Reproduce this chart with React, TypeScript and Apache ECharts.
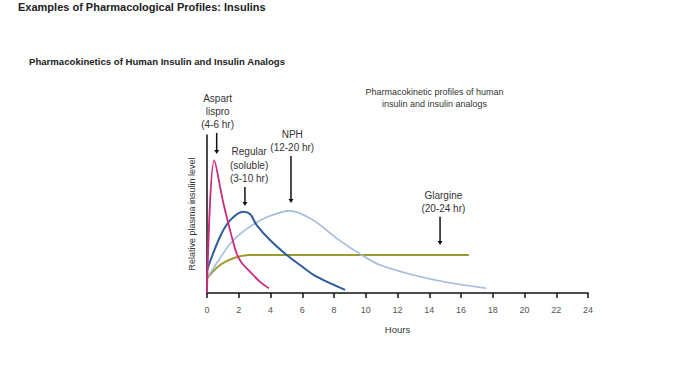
import React, { useEffect, useRef } from "react";
import * as echarts from "echarts";

// Hours on x axis
const xTicks = [0, 2, 4, 6, 8, 10, 12, 14, 16, 18, 20, 22, 24];

// Relative plasma insulin level (arbitrary units, 0-100)
const aspart: [number, number][] = [
  [0, 0], [0.46, 84], [1.03, 57], [1.55, 36], [1.87, 25], [2.19, 19], [2.71, 13.5], [3.34, 7], [3.9, 3],
];
const regular: [number, number][] = [
  [0, 14.5], [0.82, 35.6], [1.45, 46], [2.29, 51.5], [2.71, 50], [3.13, 43], [3.97, 33.5], [5.02, 24],
  [5.86, 17.7], [6.91, 10.3], [8.7, 2],
];
const nph: [number, number][] = [
  [0, 9.3], [0.82, 22], [1.66, 33.5], [2.71, 42], [3.76, 48], [5.23, 52], [6.7, 46], [8.17, 34.6],
  [9.75, 24], [10.9, 17.7], [13, 11.4], [15.1, 6.8], [17.6, 3],
];
const glargine: [number, number][] = [
  [0, 9.3], [0.82, 17.7], [1.66, 22], [2.71, 24], [5, 24], [10, 24], [16.5, 24],
];

// Annotation labels: [hours, level, lines]
const labels: { x: number; y: number; lines: string[]; size: number }[] = [
  { x: 0.67, y: 115, lines: ["Aspart", "lispro", "(4-6 hr)"], size: 10 },
  { x: 2.65, y: 81, lines: ["Regular", "(soluble)", "(3-10 hr)"], size: 10 },
  { x: 5.37, y: 96, lines: ["NPH", "(12-20 hr)"], size: 10 },
  { x: 14.89, y: 57.8, lines: ["Glargine", "(20-24 hr)"], size: 10 },
  { x: 14.33, y: 123.2, lines: ["Pharmacokinetic profiles of human", "insulin and insulin analogs"], size: 9 },
];
// Arrows: [hours, from level, to level]
const arrows: [number, number, number][] = [
  [0.61, 101.3, 88],
  [2.39, 67.1, 55.1],
  [5.29, 86.7, 57],
  [14.68, 48.3, 30.4],
];

const FONT = "'Liberation Sans', Arial, sans-serif";

export default function App() {
  const ref = useRef<HTMLDivElement>(null);
  useEffect(() => {
    if (!ref.current) return;
    const chart = echarts.init(ref.current, undefined, { renderer: "svg" });
    const line = (name: string, data: [number, number][], color: string, width: number) => ({
      name,
      type: "line",
      data,
      smooth: 0.35,
      showSymbol: false,
      symbol: "none",
      lineStyle: { color, width },
      z: 3,
    });
    chart.setOption({
      animation: false,
      textStyle: { fontFamily: FONT },
      title: [
        {
          text: "Examples of Pharmacological Profiles: Insulins",
          left: 18,
          top: 1,
          padding: 0,
          textStyle: { fontSize: 11, fontWeight: "bold", color: "#222", fontFamily: FONT },
        },
        {
          text: "Pharmacokinetics of Human Insulin and Insulin Analogs",
          left: 29,
          top: 56,
          padding: 0,
          textStyle: { fontSize: 9.6, fontWeight: "bold", color: "#222", fontFamily: FONT },
        },
      ],
      grid: { left: 207, top: 135, width: 381, height: 158, containLabel: false },
      xAxis: {
        type: "value",
        min: 0,
        max: 24,
        interval: 2,
        name: "Hours",
        nameLocation: "middle",
        nameGap: 31,
        nameTextStyle: { fontSize: 9.5, color: "#333", fontFamily: FONT },
        axisLine: { onZero: false, lineStyle: { color: "#111", width: 1.5 } },
        axisTick: { show: true, length: 5, lineStyle: { color: "#111", width: 1.5 } },
        axisLabel: { fontSize: 9, color: "#555", margin: 12, fontFamily: FONT },
        splitLine: { show: false },
      },
      yAxis: {
        type: "value",
        min: 0,
        max: 100,
        name: "Relative plasma insulin level",
        nameLocation: "middle",
        nameGap: 11,
        nameTextStyle: { fontSize: 9, color: "#333", fontFamily: FONT },
        axisLine: { show: true, lineStyle: { color: "#111", width: 1.5 } },
        axisTick: { show: false },
        axisLabel: { show: false },
        splitLine: { show: false },
      },
      series: [
        line("Glargine", glargine, "#9c9b2e", 2),
        line("NPH", nph, "#a3bcdc", 1.6),
        line("Regular", regular, "#2d5d9b", 2),
        line("Aspart", aspart, "#cc2a7b", 1.8),
      ],
    });

    const graphics: any[] = [];
    labels.forEach((l) => {
      const p = chart.convertToPixel({ gridIndex: 0 }, [l.x, l.y]) as number[];
      graphics.push({
        type: "text",
        x: p[0],
        y: p[1],
        style: {
          text: l.lines.join("\n"),
          fontSize: l.size,
          lineHeight: l.size === 10 ? 13.3 : 12,
          fill: "#333",
          align: "center",
          verticalAlign: "middle",
          fontFamily: FONT,
        },
      });
    });
    arrows.forEach(([x, y1, y2]) => {
      const a = chart.convertToPixel({ gridIndex: 0 }, [x, y1]) as number[];
      const b = chart.convertToPixel({ gridIndex: 0 }, [x, y2]) as number[];
      graphics.push({
        type: "line",
        shape: { x1: a[0], y1: a[1], x2: b[0], y2: b[1] - 3 },
        style: { stroke: "#111", lineWidth: 1.5 },
      });
      graphics.push({
        type: "polygon",
        shape: { points: [[b[0] - 2.5, b[1] - 4], [b[0] + 2.5, b[1] - 4], [b[0], b[1]]] },
        style: { fill: "#111" },
      });
    });
    chart.setOption({ graphic: graphics });

    return () => chart.dispose();
  }, []);
  return (
    <div
      ref={ref}
      style={{ position: "fixed", left: 0, top: 0, width: 700, height: 375, background: "#fff" }}
    />
  );
}
